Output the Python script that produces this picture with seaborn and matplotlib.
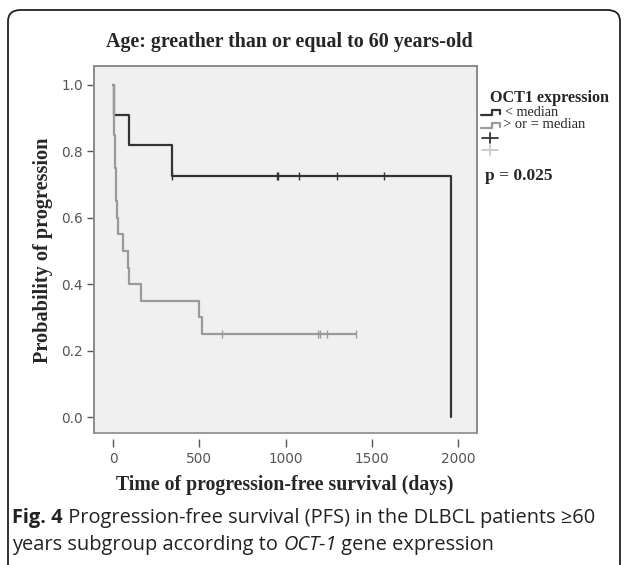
import numpy as np
import pandas as pd
import seaborn as sns
import matplotlib
matplotlib.use("Agg")
import matplotlib.pyplot as plt
from matplotlib.patches import FancyBboxPatch, Rectangle
from matplotlib.lines import Line2D

# ---- data ----
# group "< median": step curve
low_times = [0, 8, 93, 343, 1960]
low_surv = [1.0, 0.909, 0.818, 0.727, 0.0]
low_censor_times = [343, 950, 958, 1081, 1297, 1570]
low_censor_surv = [0.727, 0.727, 0.727, 0.727, 0.727, 0.727]

# group "> or = median": step curve
high_times = [0, 4, 6, 8, 10, 13, 16, 20, 25, 30, 58, 88, 93, 163, 500, 518, 1407]
high_surv = [1.0, 0.95, 0.90, 0.85, 0.80, 0.75, 0.70, 0.65, 0.60, 0.55, 0.50, 0.45, 0.40, 0.35, 0.30, 0.25, 0.25]
high_censor_times = [634, 1186, 1198, 1238, 1407]
high_censor_surv = [0.25, 0.25, 0.25, 0.25, 0.25]

x_ticks = [0, 500, 1000, 1500, 2000]
y_ticks = [0.0, 0.2, 0.4, 0.6, 0.8, 1.0]

title = "Age: greather than or equal to 60 years-old"
xlabel = "Time of progression-free survival (days)"
ylabel = "Probability of progression"
legend_title = "OCT1 expression"
legend_labels = ["< median", "> or = median"]
p_text = "p = 0.025"

BLACK = "#333333"
GRAY = "#9a9a9a"
EDGE = "#8a8a8a"

sns.set_style("white")
plt.rcParams['font.family'] = ['DejaVu Sans']

W, H = 627, 565
fig = plt.figure(figsize=(W / 100, H / 100), dpi=100)

# outer rounded frame
frame = FancyBboxPatch((8 / W, -0.05), (620 - 8) / W, (H - 10) / H + 0.05,
                       boxstyle="round,pad=0,rounding_size=0.02",
                       transform=fig.transFigure, fill=False, ec="#222222", lw=1.3)
fig.patches.append(frame)

ax = fig.add_axes([94 / W, 1 - 433 / H, (477 - 94) / W, (433 - 66) / H])
ax.set_facecolor("#f0f0f0")

low_df = pd.DataFrame({"t": low_times, "s": low_surv})
high_df = pd.DataFrame({"t": high_times, "s": high_surv})
sns.lineplot(data=low_df, x="t", y="s", drawstyle="steps-post", estimator=None,
             sort=False, color=BLACK, lw=1.6, ax=ax)
sns.lineplot(data=high_df, x="t", y="s", drawstyle="steps-post", estimator=None,
             sort=False, color=GRAY, lw=1.6, ax=ax)
sns.scatterplot(x=low_censor_times, y=low_censor_surv, marker="|", s=30,
                color=BLACK, linewidth=1.0, ax=ax)
sns.scatterplot(x=high_censor_times, y=high_censor_surv, marker="|", s=30,
                color=GRAY, linewidth=1.0, ax=ax)

ax.set_xlim(-110, 2110)
ax.set_ylim(-0.048, 1.057)
ax.set_xticks(x_ticks)
ax.set_yticks(y_ticks)
ax.set_xticklabels([str(v) for v in x_ticks])
ax.set_yticklabels([f"{v:.1f}" for v in y_ticks])
ax.set_xlabel("")
ax.set_ylabel("")

for sp in ["top", "right", "left"]:
    ax.spines[sp].set_color(EDGE)
    ax.spines[sp].set_linewidth(1.2)
ax.spines["bottom"].set_position(("outward", 4))
ax.spines["bottom"].set_visible(False)
ax.add_patch(Rectangle((0, 0), 1, 1, transform=ax.transAxes, fill=False,
                       ec=EDGE, lw=1.2, clip_on=False, zorder=5))

ax.tick_params(axis="both", which="both", direction="out", length=5, width=1.0,
               color="#555555", labelcolor="#555555", labelsize=9.8, pad=3,
               bottom=True, left=True)
ax.tick_params(axis="x", length=6, pad=4)

serif = ["Liberation Serif", "DejaVu Serif"]
fig.text(289 / W, 1 - 42 / H, title, ha="center", va="center",
         family=serif, weight="bold", fontsize=14.4)
fig.text(43 / W, 1 - 250 / H, ylabel, ha="center", va="center", rotation=90,
         family=serif, weight="bold", fontsize=14.6)
fig.text(285 / W, 1 - 485 / H, xlabel, ha="center", va="center",
         family=serif, weight="bold", fontsize=14.2)

# legend
fig.text(490 / W, 1 - 98 / H, legend_title, ha="left", va="center",
         family=serif, weight="bold", fontsize=11.6)
fig.text(505 / W, 1 - 112 / H, legend_labels[0], ha="left", va="center",
         family=serif, fontsize=10.2)
fig.text(503 / W, 1 - 125 / H, legend_labels[1], ha="left", va="center",
         family=serif, fontsize=10.5)


def step_icon(y, color):
    xs = np.array([481, 492, 492, 500, 500]) / W
    ys = 1 - np.array([y + 2, y + 2, y - 3, y - 3, y + 1]) / H
    fig.lines.append(Line2D(xs, ys, transform=fig.transFigure, color=color, lw=1.6))


def plus_icon(y, color):
    fig.lines.append(Line2D([482 / W, 498 / W], [1 - y / H, 1 - y / H],
                            transform=fig.transFigure, color=color, lw=1.3))
    fig.lines.append(Line2D([490 / W, 490 / W], [1 - (y - 5) / H, 1 - (y + 5) / H],
                            transform=fig.transFigure, color=color, lw=1.3))


step_icon(113, BLACK)
step_icon(126, GRAY)
plus_icon(138, BLACK)
plus_icon(150, "#c8c8c8")

fig.text(485 / W, 1 - 176 / H, p_text, ha="left", va="center",
         family=serif, weight="bold", fontsize=12.5)

# caption
cap_fam = ["Open Sans", "DejaVu Sans"]
cap_size = 14.4
renderer = fig.canvas.get_renderer()


def run_text(x_px, y_px, parts):
    x = x_px
    for txt, kw in parts:
        t = fig.text(x / W, 1 - y_px / H, txt, ha="left", va="center",
                     fontsize=cap_size, color="#222222", **kw)
        bb = t.get_window_extent(renderer=renderer)
        x += bb.width


run_text(12, 518, [("Fig. 4", dict(family=cap_fam, weight="bold")),
                   (" Progression-free survival (PFS) in the DLBCL patients \u226560",
                    dict(family=cap_fam))])
run_text(12, 545, [("years subgroup according to ", dict(family=cap_fam)),
                   ("OCT-1", dict(family=cap_fam, style="italic")),
                   (" gene expression", dict(family=cap_fam))])

fig.savefig("out.png", dpi=100)
